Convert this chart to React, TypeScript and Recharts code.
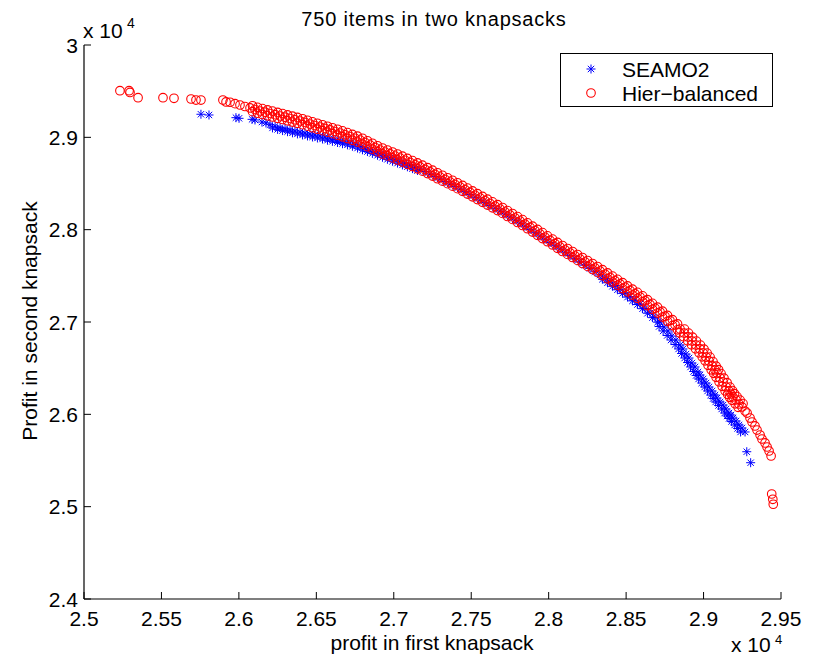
import React from "react";
import { ScatterChart, Scatter, XAxis, YAxis, Legend } from "recharts";

const FONT = '"Liberation Sans", Arial, Helvetica, sans-serif';

const xTicks = [25000, 25500, 26000, 26500, 27000, 27500, 28000, 28500, 29000, 29500];
const xTickLabels = ["2.5", "2.55", "2.6", "2.65", "2.7", "2.75", "2.8", "2.85", "2.9", "2.95"];
const yTicks = [24000, 25000, 26000, 27000, 28000, 29000, 30000];
const yTickLabels = ["2.4", "2.5", "2.6", "2.7", "2.8", "2.9", "3"];

// [profit in first knapsack, profit in second knapsack]
const seamo2: [number, number][] = [
  [25755, 29250], [25807, 29242], [25981, 29213], [26001, 29206], [26085, 29195], [26104, 29188],
  [26149, 29166], [26175, 29155], [26201, 29137], [26234, 29120], [26266, 29105], [26298, 29094],
  [26330, 29082], [26362, 29070], [26395, 29058], [26427, 29047], [26459, 29036], [26491, 29025],
  [26524, 29015], [26556, 29002], [26588, 28990], [26621, 28977], [26653, 28964], [26685, 28952],
  [26717, 28939], [26750, 28920], [26782, 28901], [26814, 28882], [26846, 28863], [26879, 28843],
  [26911, 28822], [26943, 28800], [26976, 28778], [27008, 28758], [27040, 28737], [27072, 28718],
  [27105, 28697], [27137, 28678], [27169, 28657], [27202, 28630], [27234, 28603], [27266, 28576],
  [27298, 28549], [27331, 28522], [27363, 28495], [27395, 28468], [27428, 28441], [27460, 28411],
  [27492, 28381], [27524, 28351], [27557, 28321], [27589, 28292], [27621, 28262], [27654, 28232],
  [27686, 28202], [27718, 28170], [27750, 28137], [27783, 28105], [27815, 28072], [27847, 28037],
  [27880, 28002], [27912, 27967], [27944, 27931], [27976, 27896], [28009, 27861], [28041, 27826],
  [28073, 27791], [28106, 27756], [28138, 27720], [28170, 27685], [28202, 27650], [28235, 27615],
  [28267, 27580], [28299, 27544], [28331, 27509], [28364, 27471], [28396, 27433], [28428, 27395],
  [28461, 27357], [28493, 27317], [28525, 27276], [28557, 27236], [28590, 27195], [28622, 27146],
  [28654, 27098], [28687, 27049], [28719, 27000], [28745, 26946], [28771, 26903], [28796, 26848],
  [28822, 26805], [28848, 26751], [28867, 26708], [28887, 26653], [28906, 26610], [28925, 26556],
  [28945, 26513], [28964, 26459], [28977, 26426], [28997, 26383], [29016, 26339], [29035, 26296],
  [29055, 26253], [29074, 26209], [29087, 26177], [29106, 26134], [29126, 26101], [29145, 26058],
  [29164, 26014], [29177, 25993], [29190, 25960], [29210, 25928], [29229, 25885], [29248, 25852],
  [29268, 25809], [29279, 25595], [29304, 25476],
  // lower edge of the band
  [26217, 29102], [26250, 29086], [26282, 29073], [26314, 29061], [26346, 29049], [26378, 29037],
  [26411, 29026], [26443, 29015], [26475, 29004], [26507, 28993], [26540, 28982], [26572, 28969],
  [26604, 28957], [26637, 28944], [26669, 28931], [26701, 28919], [26733, 28903], [26766, 28884],
  [26798, 28865], [26830, 28846], [26862, 28826], [26895, 28806], [26927, 28784], [26959, 28762],
  [26992, 28741], [27024, 28721], [27056, 28701], [27088, 28681], [27121, 28661], [27153, 28641],
  [28347, 27463], [28380, 27425], [28412, 27387], [28444, 27349], [28477, 27310], [28509, 27270],
  [28541, 27229], [28573, 27189], [28606, 27144], [28638, 27095], [28670, 27047], [28703, 26998],
  [28713, 26951], [28739, 26903], [28765, 26854], [28790, 26805], [28816, 26756], [28839, 26708],
  [28858, 26659], [28878, 26610], [28897, 26561], [28916, 26513], [28936, 26464], [28952, 26421],
  [28968, 26383], [28988, 26339], [29007, 26296], [29026, 26253], [29046, 26209], [29062, 26171],
  [29078, 26134], [29097, 26096], [29117, 26058], [29136, 26014], [29152, 25982], [29165, 25955],
  [29181, 25922], [29201, 25885], [29220, 25847], [29239, 25809],
];

const hierBalanced: [number, number][] = [
  [25232, 29505], [25291, 29505], [25297, 29486], [25349, 29429], [25510, 29429], [25581, 29423],
  [25691, 29415], [25723, 29404], [25755, 29404], [25897, 29404], [25917, 29383], [25943, 29380],
  [25975, 29365], [26007, 29350], [26039, 29334], [26072, 29318], [26104, 29301], [26136, 29285],
  [26169, 29272], [26201, 29258], [26234, 29245], [26266, 29231], [26298, 29218], [26330, 29204],
  [26362, 29190], [26395, 29177], [26427, 29161], [26459, 29144], [26491, 29128], [26524, 29112],
  [26556, 29096], [26588, 29080], [26621, 29063], [26653, 29047], [26685, 29028], [26717, 29009],
  [26750, 28990], [26782, 28971], [26814, 28944], [26846, 28917], [26879, 28890], [26911, 28863],
  [26943, 28841], [26976, 28820], [27008, 28798], [27040, 28776], [27072, 28752], [27105, 28728],
  [27137, 28703], [27169, 28679], [27202, 28652], [27234, 28625], [27266, 28598], [27298, 28570],
  [27331, 28543], [27363, 28516], [27395, 28489], [27428, 28462], [27460, 28432], [27492, 28403],
  [27524, 28373], [27557, 28343], [27589, 28313], [27621, 28283], [27654, 28254], [27686, 28224],
  [27718, 28191], [27750, 28159], [27783, 28126], [27815, 28094], [27847, 28059], [27880, 28024],
  [27912, 27988], [27944, 27953], [27976, 27918], [28009, 27883], [28041, 27848], [28073, 27812],
  [28106, 27780], [28138, 27747], [28170, 27715], [28202, 27682], [28235, 27650], [28267, 27617],
  [28299, 27585], [28331, 27552], [28364, 27517], [28396, 27482], [28428, 27447], [28461, 27412],
  [28493, 27376], [28525, 27341], [28557, 27306], [28590, 27271], [28622, 27230], [28654, 27190],
  [28687, 27149], [28719, 27108], [28751, 27062], [28783, 27016], [28816, 26970], [28848, 26924],
  [28874, 26881], [28900, 26838], [28925, 26794], [28951, 26751], [28977, 26708], [28997, 26664],
  [29016, 26621], [29035, 26578], [29055, 26524], [29074, 26480], [29087, 26448], [29106, 26394],
  [29126, 26350], [29145, 26296], [29164, 26253], [29177, 26220], [29190, 26188], [29210, 26155],
  [29229, 26112], [29248, 26080], [29268, 26036], [29281, 26014], [29300, 25960], [29313, 25917],
  [29332, 25874], [29345, 25830], [29365, 25776], [29377, 25733], [29397, 25690], [29410, 25646],
  [29423, 25603], [29436, 25549], [29440, 25137], [29447, 25080], [29450, 25026],
  // upper edge of the band
  [26088, 29342], [26120, 29325], [26152, 29311], [26185, 29297], [26217, 29284], [26250, 29270],
  [26282, 29257], [26314, 29243], [26346, 29229], [26378, 29216], [26411, 29201], [26443, 29185],
  [26475, 29168], [26507, 29152], [26540, 29136], [26572, 29120], [26604, 29104], [26637, 29087],
  [26669, 29070], [26701, 29051], [26733, 29032], [26766, 29013], [26798, 28990], [26830, 28963],
  [26862, 28936], [26895, 28909], [26927, 28884], [26959, 28863], [26992, 28841], [27024, 28819],
  [27056, 28796], [27088, 28772], [27121, 28748], [27153, 28723], [27185, 28698], [27218, 28671],
  [27250, 28644], [27282, 28616], [27314, 28589], [27347, 28562], [27379, 28535], [27411, 28508],
  [27444, 28479], [27476, 28450], [27508, 28420], [27540, 28390], [27573, 28360], [27605, 28330],
  [27637, 28301], [27670, 28271], [27702, 28240], [27734, 28207], [27766, 28175], [27799, 28142],
  [27831, 28109], [27863, 28074], [27896, 28038], [27928, 28003], [27960, 27968], [27992, 27933],
  [28025, 27898], [28057, 27862], [28089, 27828], [28122, 27796], [28154, 27763], [28186, 27731],
  [28218, 27698], [28251, 27666], [28283, 27633], [28315, 27601], [28347, 27567], [28380, 27532],
  [28412, 27497], [28444, 27462], [28477, 27426], [28509, 27391], [28541, 27356], [28573, 27321],
  [28606, 27283], [28638, 27242], [28670, 27202], [28703, 27161], [28735, 27117], [28767, 27071],
  [28799, 27025], [28832, 26979], [28877, 26923], [28903, 26880], [28929, 26836], [28954, 26793],
  [28980, 26750], [29003, 26706], [29023, 26663], [29042, 26620], [29061, 26571], [29081, 26522],
  [29097, 26484], [29113, 26441], [29132, 26392], [29152, 26343], [29171, 26295], [29187, 26257],
  [29200, 26224], [29216, 26192], [29236, 26154], [29255, 26116],
  // lower edge of the band
  [26088, 29278], [26120, 29261], [26152, 29247], [26185, 29233], [26217, 29220], [26250, 29206],
  [26282, 29193], [26314, 29179], [26346, 29165], [26378, 29152], [26411, 29137], [26443, 29121],
  [26475, 29104], [26507, 29088], [26540, 29072], [26572, 29056], [26604, 29040], [26637, 29023],
  [26669, 29006], [26701, 28987], [26733, 28968], [26766, 28949], [26798, 28926], [26830, 28899],
  [26862, 28872], [26895, 28845], [26927, 28820], [26959, 28799], [26992, 28777], [27024, 28755],
  [27056, 28732], [27088, 28708], [27121, 28684], [27153, 28659], [27185, 28634], [27218, 28607],
  [27250, 28580], [27282, 28552], [27314, 28525], [27347, 28498], [27379, 28471], [27411, 28444],
  [27444, 28415], [27476, 28386], [27508, 28356], [27540, 28326], [27573, 28296], [27605, 28266],
  [27637, 28237], [27670, 28207], [27702, 28176], [27734, 28143], [27766, 28111], [27799, 28078],
  [27831, 28045], [27863, 28010], [27896, 27974], [27928, 27939], [27960, 27904], [27992, 27869],
  [28025, 27834], [28057, 27798], [28089, 27764], [28122, 27732], [28154, 27699], [28186, 27667],
  [28218, 27634], [28251, 27602], [28283, 27569], [28315, 27537], [28347, 27503], [28380, 27468],
  [28412, 27433], [28444, 27398], [28477, 27362], [28509, 27327], [28541, 27292], [28573, 27257],
  [28606, 27219], [28638, 27178], [28670, 27138], [28703, 27097], [28735, 27053], [28767, 27007],
  [28799, 26961], [28832, 26915], [28845, 26883], [28871, 26840], [28897, 26796], [28922, 26753],
  [28948, 26710], [28971, 26666], [28991, 26623], [29010, 26580], [29029, 26531], [29049, 26482],
  [29065, 26444], [29081, 26401], [29100, 26352], [29120, 26303], [29139, 26255], [29155, 26217],
  [29168, 26184], [29184, 26152], [29204, 26114], [29223, 26076],
];

const toPoints = (rows: [number, number][]) => rows.map(([x, y]) => ({ x, y }));

const BLUE = "#0000ff";
const RED = "#ff0000";
const TICK_LEN = 7;

function Star({ cx, cy }: any) {
  const r = 4.5;
  const d = r * 0.7071;
  return (
    <g stroke={BLUE} strokeWidth={1}>
      <line x1={cx - r} y1={cy} x2={cx + r} y2={cy} />
      <line x1={cx} y1={cy - r} x2={cx} y2={cy + r} />
      <line x1={cx - d} y1={cy - d} x2={cx + d} y2={cy + d} />
      <line x1={cx - d} y1={cy + d} x2={cx + d} y2={cy - d} />
    </g>
  );
}

function Ring({ cx, cy }: any) {
  return <circle cx={cx} cy={cy} r={4.3} fill="none" stroke={RED} strokeWidth={1.1} />;
}

function BottomTick({ x, y, payload }: any) {
  const label = xTickLabels[xTicks.indexOf(payload.value)];
  return (
    <g>
      <line x1={x} x2={x} y1={y} y2={y - TICK_LEN} stroke="#000" />
      <text x={x} y={y + 27} textAnchor="middle" fontSize={21} fontFamily={FONT} fill="#000">
        {label}
      </text>
    </g>
  );
}

function TopTick({ x, y }: any) {
  return <line x1={x} x2={x} y1={y} y2={y + TICK_LEN} stroke="#000" />;
}

function LeftTick({ x, y, payload }: any) {
  const label = yTickLabels[yTicks.indexOf(payload.value)];
  return (
    <g>
      <line x1={x} x2={x + TICK_LEN} y1={y} y2={y} stroke="#000" />
      <text x={x - 6} y={y + 7.5} textAnchor="end" fontSize={21} fontFamily={FONT} fill="#000">
        {label}
      </text>
    </g>
  );
}

function RightTick({ x, y }: any) {
  return <line x1={x} x2={x - TICK_LEN} y1={y} y2={y} stroke="#000" />;
}

function LegendBox() {
  return (
    <div style={{ width: 211, height: 52, border: "1px solid #000", background: "#fff" }}>
      <svg width={211} height={52} style={{ display: "block" }}>
        <Star cx={30} cy={15} />
        <Ring cx={30} cy={39} />
        <text x={61} y={23} fontSize={21} fontFamily={FONT} fill="#000">SEAMO2</text>
        <text x={61} y={46.5} fontSize={21} fontFamily={FONT} fill="#000">Hier−balanced</text>
      </svg>
    </div>
  );
}

export default function App() {
  const axisLine = { stroke: "#000", strokeWidth: 1.2 };
  return (
    <div style={{ position: "absolute", left: 0, top: 0, width: 822, height: 657, background: "#fff" }}>
      <ScatterChart width={822} height={657} margin={{ top: 45, right: 41, bottom: 18, left: 24 }}>
        <XAxis
          xAxisId="b"
          type="number"
          dataKey="x"
          domain={[25000, 29500]}
          ticks={xTicks}
          interval={0}
          height={40}
          tickSize={0}
          tickMargin={0}
          tickLine={false}
          axisLine={axisLine}
          tick={<BottomTick />}
          allowDataOverflow
        />
        <XAxis
          xAxisId="t"
          orientation="top"
          type="number"
          dataKey="x"
          domain={[25000, 29500]}
          ticks={xTicks}
          interval={0}
          height={0}
          tickSize={0}
          tickMargin={0}
          tickLine={false}
          axisLine={axisLine}
          tick={<TopTick />}
          allowDataOverflow
        />
        <YAxis
          yAxisId="l"
          type="number"
          dataKey="y"
          domain={[24000, 30000]}
          ticks={yTicks}
          interval={0}
          width={60}
          tickSize={0}
          tickMargin={0}
          tickLine={false}
          axisLine={axisLine}
          tick={<LeftTick />}
          allowDataOverflow
        />
        <YAxis
          yAxisId="r"
          orientation="right"
          type="number"
          dataKey="y"
          domain={[24000, 30000]}
          ticks={yTicks}
          interval={0}
          width={0}
          tickSize={0}
          tickMargin={0}
          tickLine={false}
          axisLine={axisLine}
          tick={<RightTick />}
          allowDataOverflow
        />
        <Legend
          layout="horizontal"
          verticalAlign="middle"
          align="center"
          content={() => <LegendBox />}
          wrapperStyle={{ left: 560, top: 53, width: 213, height: 54 }}
        />
        <Scatter
          name="SEAMO2"
          data={toPoints(seamo2)}
          xAxisId="b"
          yAxisId="l"
          shape={<Star />}
          isAnimationActive={false}
        />
        <Scatter
          name="Hier-balanced"
          data={toPoints(hierBalanced)}
          xAxisId="b"
          yAxisId="l"
          shape={<Ring />}
          isAnimationActive={false}
        />
      </ScatterChart>
      <svg
        width={822}
        height={657}
        style={{ position: "absolute", left: 0, top: 0, pointerEvents: "none" }}
        fontFamily={FONT}
        fill="#000"
      >
        <text x={434} y={26} textAnchor="middle" fontSize={20} letterSpacing={0.8}>
          750 items in two knapsacks
        </text>
        <text x={83} y={38} fontSize={21}>x 10</text>
        <text x={127} y={28} fontSize={14}>4</text>
        <text x={731} y={652} fontSize={21}>x 10</text>
        <text x={775} y={644} fontSize={13}>4</text>
        <text x={432} y={650} textAnchor="middle" fontSize={21}>
          profit in first knapsack
        </text>
        <text x={37} y={321} textAnchor="middle" fontSize={21} transform="rotate(-90 37 321)">
          Profit in second knapsack
        </text>
      </svg>
    </div>
  );
}
